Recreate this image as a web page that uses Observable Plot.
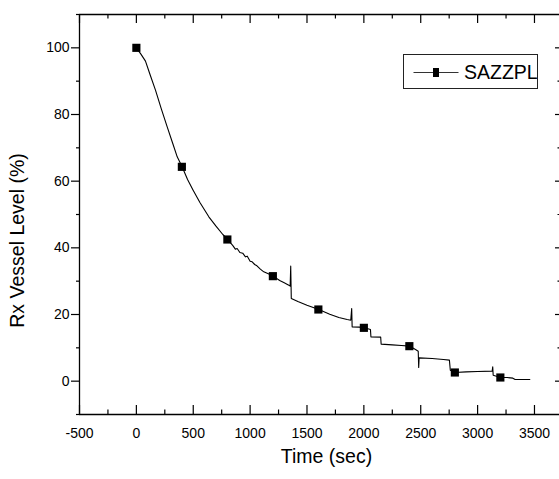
<!DOCTYPE html>
<html>
<head>
<meta charset="utf-8">
<script src="https://cdn.jsdelivr.net/npm/d3@7"></script>
<script src="https://cdn.jsdelivr.net/npm/@observablehq/plot@0.6"></script>
<style>
  html, body { margin: 0; padding: 0; background: #fff; }
  #wrap { position: relative; width: 559px; height: 479px; overflow: hidden; font-family: "Liberation Sans", Arial, sans-serif; }
  #legend { position: absolute; left: 403px; top: 54px; width: 135px; height: 35px; box-sizing: border-box; border: 1px solid #222; background: #fff; }
  #legend svg { position: absolute; left: 0; top: 0; }
  #legend span { position: absolute; left: 60px; top: 6px; font-size: 19.5px; line-height: 22px; color: #000; white-space: nowrap; }
</style>
</head>
<body>
<div id="wrap"></div>
<script>
// Series: SAZZPL (time in s, level in %)
const time = [0, 40, 80, 120, 168, 220, 271, 320, 359, 402, 450, 499, 560, 637, 700, 760, 803,
  850, 870, 886, 910, 935, 959, 975, 1000, 1018, 1040, 1060, 1090, 1120, 1160, 1203, 1260, 1300, 1340, 1352, 1357, 1362,
  1420, 1500, 1604, 1700, 1780, 1853, 1885, 1893, 1897, 1960, 2005, 2058, 2062, 2148, 2152, 2250, 2330, 2404,
  2454, 2478, 2482, 2486, 2600, 2700, 2752, 2760, 2799, 2900, 3000, 3128, 3133, 3137, 3201, 3260, 3310, 3330, 3362, 3459];
const level = [100, 98.1, 96.0, 92.0, 87.3, 81.6, 76.3, 71.3, 67.3, 64.3, 60.5, 57.3, 53.5, 49.3, 46.5, 44.0, 42.5,
  40.6, 39.6, 39.8, 38.6, 38.4, 37.3, 37.5, 36.0, 35.8, 35.0, 34.6, 33.6, 32.8, 32.2, 31.5, 30.2, 29.5, 28.8, 28.5, 34.5, 24.8,
  23.9, 22.8, 21.5, 20.1, 19.1, 18.5, 18.3, 21.8, 16.3, 16.2, 16.0, 15.5, 13.3, 13.2, 11.1, 10.9, 10.7, 10.5,
  9.5, 9.0, 4.1, 7.0, 6.8, 6.5, 6.3, 3.3, 2.6, 2.8, 2.9, 3.0, 4.3, 1.8, 1.1, 1.1, 0.9, 0.5, 0.5, 0.5];
// Marker positions (every 400 s)
const markerTime = [0, 400, 800, 1200, 1600, 2000, 2400, 2800, 3200];
const markerLevel = [100, 64.3, 42.5, 31.5, 21.5, 16.0, 10.5, 2.6, 1.1];
// Axis ticks
const xMajor = [-500, 0, 500, 1000, 1500, 2000, 2500, 3000, 3500];
const xMinor = [-250, 250, 750, 1250, 1750, 2250, 2750, 3250];
const yMajor = [0, 20, 40, 60, 80, 100];
const yMinor = [-10, 10, 30, 50, 70, 90, 110];
const xTitle = "Time (sec)";
const yTitle = "Rx Vessel Level (%)";
const seriesName = "SAZZPL";

const curve = time.map((t, i) => ({t, v: level[i]}));
const markers = markerTime.map((t, i) => ({t, v: markerLevel[i]}));

const W = 559, H = 479, mL = 79, mR = 0, mT = 14, mB = 65;
const pw = W - mL - mR, ph = H - mT - mB;

const chart = Plot.plot({
  width: W, height: H,
  marginLeft: mL, marginRight: mR, marginTop: mT, marginBottom: mB,
  style: {fontFamily: "'Liberation Sans', Arial, sans-serif", background: "#fff", color: "#000", overflow: "visible"},
  x: {domain: [-500, 3720], axis: null},
  y: {domain: [-10, 110], axis: null},
  marks: [
    // spines
    Plot.ruleX([-500], {stroke: "#000", strokeWidth: 1.3}),
    Plot.ruleY([-10], {stroke: "#000", strokeWidth: 1.3}),
    Plot.ruleY([110], {stroke: "#000", strokeWidth: 1.3}),
    // bottom ticks (inward)
    Plot.tickX(xMajor, {x: d => d, insetTop: ph - 9, stroke: "#000", strokeWidth: 1.2}),
    Plot.tickX(xMinor, {x: d => d, insetTop: ph - 4.5, stroke: "#000", strokeWidth: 1.2}),
    // top ticks (inward)
    Plot.tickX(xMajor, {x: d => d, insetBottom: ph - 9, stroke: "#000", strokeWidth: 1.2}),
    Plot.tickX(xMinor, {x: d => d, insetBottom: ph - 4.5, stroke: "#000", strokeWidth: 1.2}),
    // left ticks (outward)
    Plot.tickY(yMajor, {y: d => d, insetRight: pw - 8, dx: -8, stroke: "#000", strokeWidth: 1.2}),
    Plot.tickY(yMinor, {y: d => d, insetRight: pw - 3, dx: -3, stroke: "#000", strokeWidth: 1.2}),
    // right ticks (inward, at the edge)
    Plot.tickY(yMajor, {y: d => d, insetLeft: pw - 4, stroke: "#000", strokeWidth: 1.2}),
    Plot.tickY(yMinor, {y: d => d, insetLeft: pw - 1.5, stroke: "#000", strokeWidth: 1.2}),
    // tick labels
    Plot.text(xMajor, {x: d => d, frameAnchor: "bottom", lineAnchor: "middle", textAnchor: "middle", dy: 19.5, text: d => String(d), fontSize: 14, fill: "#000"}),
    Plot.text(yMajor, {y: d => d, frameAnchor: "left", lineAnchor: "middle", dx: -10, textAnchor: "end", text: d => String(d), fontSize: 14, fill: "#000"}),
    // axis titles
    Plot.text([xTitle], {frameAnchor: "bottom", lineAnchor: "middle", textAnchor: "middle", dx: 7, dy: 42, text: d => d, fontSize: 19.5, fill: "#000"}),
    Plot.text([yTitle], {frameAnchor: "left", lineAnchor: "middle", textAnchor: "middle", dx: -62, dy: 26, rotate: -90, text: d => d, fontSize: 19.5, fill: "#000"}),
    // data
    Plot.line(curve, {x: "t", y: "v", stroke: "#000", strokeWidth: 1.1}),
    Plot.dot(markers, {x: "t", y: "v", symbol: "square", r: 4.6, fill: "#000", stroke: "none"})
  ]
});

const wrap = document.getElementById("wrap");
wrap.appendChild(chart);

const legend = document.createElement("div");
legend.id = "legend";
legend.innerHTML = `<svg width="60" height="34"><line x1="9.5" x2="54.5" y1="17.5" y2="17.5" stroke="#333" stroke-width="1"/><rect x="29" y="13" width="6" height="9" fill="#000"/></svg><span></span>`;
legend.querySelector("span").textContent = seriesName;
wrap.appendChild(legend);
</script>
</body>
</html>
